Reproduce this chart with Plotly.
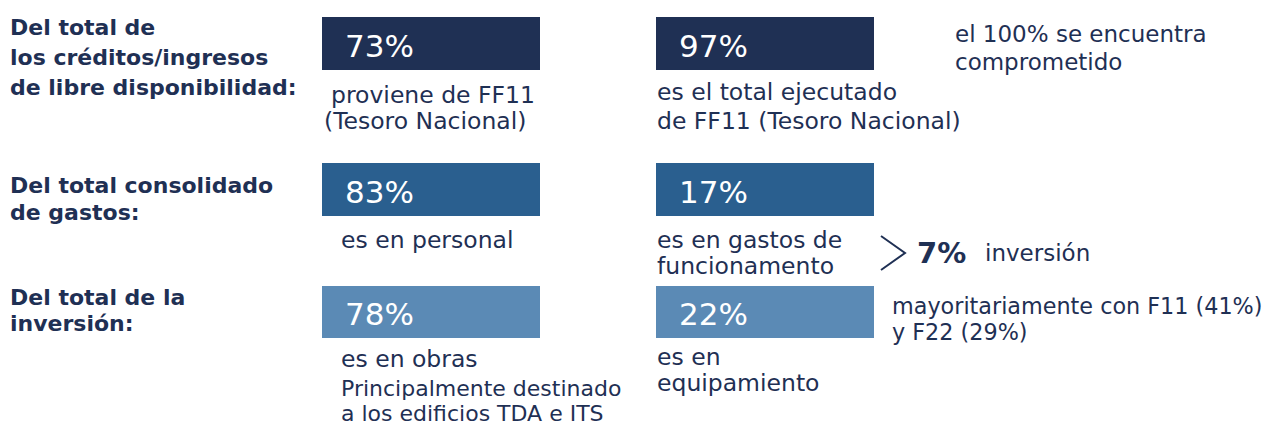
import plotly.graph_objects as go

# ---- data ----
section_titles = [
    ["Del total de", "los créditos/ingresos", "de libre disponibilidad:"],
    ["Del total consolidado", "de gastos:"],
    ["Del total de la", "inversión:"],
]
box_values = [73, 97, 83, 17, 78, 22]
box_rows = [0, 0, 1, 1, 2, 2]
box_cols = [0, 1, 0, 1, 0, 1]
box_captions = [
    ["proviene de FF11", "(Tesoro Nacional)"],
    ["es el total ejecutado", "de FF11 (Tesoro Nacional)"],
    ["es en personal"],
    ["es en gastos de", "funcionamento"],
    ["es en obras", "Principalmente destinado", "a los edificios TDA e ITS"],
    ["es en", "equipamiento"],
]
note_committed = ["el 100% se encuentra", "comprometido"]
investment_share = 7
investment_label = "inversión"
note_funding = ["mayoritariamente con F11 (41%)", "y F22 (29%)"]

# ---- styling / layout ----
W, H = 1276, 427
PAD = 8  # default page body margin
row_colors = ["#1f3054", "#2a5f8f", "#5b8ab5"]
text_color = "#1f3054"
FONT = "DejaVu Sans"
row_box_y = [(17, 70), (163, 216), (286, 338)]
col_box_x = [(322, 540), (656, 874)]
title_line_y = [[27, 57, 87], [185, 212], [297, 323]]
caption_line_y = [
    [95, 121],
    [92, 121],
    [240],
    [240, 266],
    [359, 388, 413],
    [357, 383],
]
caption_line_x = [
    [329, 322],
    [655, 655],
    [339],
    [655, 655],
    [339, 339, 339],
    [655, 655],
]
caption_line_size = [
    [23.5, 23.5],
    [23.5, 23.5],
    [23.5],
    [23.5, 23.5],
    [23.5, 22, 22],
    [23.5, 23.5],
]

fig = go.Figure()
shapes = []
annotations = []

def txt(x, y, s, size, color=text_color, bold=False):
    annotations.append(dict(
        x=x, y=y, xref="x", yref="y", text=(f"<b>{s}</b>" if bold else s),
        showarrow=False, xanchor="left", yanchor="middle",
        font=dict(family=FONT, size=size, color=color),
    ))

for lines, ys in zip(section_titles, title_line_y):
    for s, y in zip(lines, ys):
        txt(PAD, y, s, 22, bold=True)

for i, v in enumerate(box_values):
    r, c = box_rows[i], box_cols[i]
    x0, x1 = col_box_x[c]
    y0, y1 = row_box_y[r]
    shapes.append(dict(type="rect", xref="x", yref="y", x0=x0, x1=x1, y0=y0, y1=y1,
                       fillcolor=row_colors[r], line=dict(width=0), layer="below"))
    txt(x0 + 21, (y0 + y1) / 2 + 2, f"{v}%", 31, color="white")
    for s, y, x, fs in zip(box_captions[i], caption_line_y[i], caption_line_x[i],
                           caption_line_size[i]):
        txt(x, y, s, fs)

for s, y in zip(note_committed, [34, 62]):
    txt(953, y, s, 23)

# chevron
fig.add_trace(go.Scatter(x=[881, 905, 881], y=[236, 253, 270], mode="lines",
                         line=dict(color=text_color, width=2), hoverinfo="skip",
                         showlegend=False))
txt(915, 253, f"{investment_share}%", 29, bold=True)
txt(983, 253, investment_label, 23)

for s, y in zip(note_funding, [306, 332]):
    txt(890, y, s, 22.3)

fig.update_layout(
    width=W - PAD, height=H - PAD, autosize=False,
    margin=dict(l=0, r=0, t=0, b=0),
    paper_bgcolor="white", plot_bgcolor="white",
    xaxis=dict(range=[PAD, W], visible=False, fixedrange=True),
    yaxis=dict(range=[H, PAD], visible=False, fixedrange=True),
    shapes=shapes, annotations=annotations, showlegend=False,
)
fig.write_html("out.html", config={"displayModeBar": False})
